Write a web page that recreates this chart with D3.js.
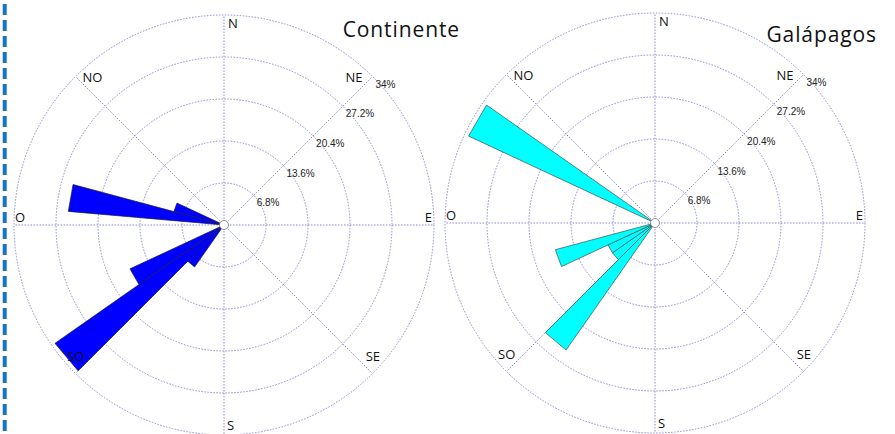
<!DOCTYPE html>
<html>
<head>
<meta charset="utf-8">
<script src="https://d3js.org/d3.v7.min.js"></script>
<style>
    body {
        margin: 0;
        background: #ffffff;
    }
    .dir {
        font-family: "Open Sans", sans-serif;
        font-size: 13px;
        fill: #111;
    }
    .pct {
        font-family: "Liberation Sans", Arial, sans-serif;
        font-size: 10px;
        fill: #222;
    }
    .title {
        font-family: "Open Sans", sans-serif;
        font-size: 21px;
        letter-spacing: 0.9px;
        fill: #111;
    }
</style>
</head>
<body>
<svg id="chart" width="895" height="434"></svg>
<script>
    // compass labels, clockwise from north
    var directions = ["N", "NE", "E", "SE", "S", "SO", "O", "NO"];
    var ringTicks = [6.8, 13.6, 20.4, 27.2, 34];
    var binWidth = 10; // degrees per sector

    // sector centre (bearing, degrees) and frequency (%)
    var contBearings = [220, 230, 240, 280, 290];
    var contValues = [8.3, 33.4, 16.8, 25.3, 8.4];

    var galBearings = [220, 230, 240, 250, 300];
    var galValues = [25.1, 8.4, 8.4, 16.7, 33.3];

    var width = 895,
        height = 434,
        radius = 210;

    var svg = d3.select("#chart");

    // dashed separator on the left
    svg.append("line")
        .attr("x1", 4.7).attr("x2", 4.7)
        .attr("y1", 4).attr("y2", height)
        .attr("stroke", "#1874c9")
        .attr("stroke-width", 4)
        .attr("stroke-dasharray", "11,5");

    var r = d3.scaleLinear().domain([0, 34]).range([0, radius]);

    function rose(cx, cy, bearings, values, fill, stroke, title, titleX, titleY) {
        var g = svg.append("g").attr("transform", "translate(" + cx + "," + cy + ")");

        var grid = g.append("g")
            .attr("fill", "none")
            .attr("stroke", "#8a8ad6")
            .attr("stroke-width", 1)
            .attr("stroke-dasharray", "1.5,1.5");

        grid.selectAll("circle")
            .data(ringTicks)
            .enter().append("circle")
            .attr("r", function(d) { return r(d); });

        grid.selectAll("line")
            .data(d3.range(8))
            .enter().append("line")
            .attr("x1", 0).attr("y1", 0)
            .attr("x2", function(i) { return radius * Math.sin(i * Math.PI / 4); })
            .attr("y2", function(i) { return -radius * Math.cos(i * Math.PI / 4); });

        // wedges
        var data = bearings.map(function(b, i) { return { bearing: b, value: values[i] }; });
        var wedge = d3.lineRadial()
            .angle(function(p) { return p[0]; })
            .radius(function(p) { return p[1]; })
            .curve(d3.curveLinearClosed);
        var rad = Math.PI / 180;

        g.append("g").selectAll("path")
            .data(data)
            .enter().append("path")
            .attr("d", function(d) {
                var a0 = (d.bearing - binWidth / 2) * rad,
                    a1 = (d.bearing + binWidth / 2) * rad;
                return wedge([[0, 0], [a0, r(d.value)], [a1, r(d.value)]]);
            })
            .attr("fill", fill)
            .attr("stroke", stroke)
            .attr("stroke-width", 0.7)
            .attr("stroke-linejoin", "miter");

        g.append("circle")
            .attr("r", 4.5)
            .attr("fill", "#fff")
            .attr("stroke", "#777")
            .attr("stroke-width", 0.8);

        // percentage labels along the NE spoke
        var d45 = Math.SQRT1_2;
        g.selectAll(".pct")
            .data(ringTicks)
            .enter().append("text")
            .attr("class", "pct")
            .attr("x", function(d) { return r(d) * d45 + 3; })
            .attr("y", function(d) { return -r(d) * d45 + 11; })
            .text(function(d) { return d + "%"; });

        // compass labels
        var rd = radius * d45;
        var pos = {
            "N": [4, -radius + 12.5, "start"],
            "NE": [rd - 10, -rd + 5, "end"],
            "E": [radius - 2, -3, "end"],
            "SE": [rd + 7.5, rd - 12, "end"],
            "S": [3, radius - 5, "start"],
            "SO": [-rd - 8.5, rd - 12, "start"],
            "O": [-radius + 1, -3.5, "start"],
            "NO": [-rd + 7, -rd + 5, "start"]
        };
        g.selectAll(".dir")
            .data(directions)
            .enter().append("text")
            .attr("class", "dir")
            .attr("x", function(d) { return pos[d][0]; })
            .attr("y", function(d) { return pos[d][1]; })
            .attr("text-anchor", function(d) { return pos[d][2]; })
            .text(function(d) { return d; });

        svg.append("text")
            .attr("class", "title")
            .attr("x", titleX)
            .attr("y", titleY)
            .attr("text-anchor", "end")
            .text(title);
    }

    rose(224, 225, contBearings, contValues, "#0000ff", "#1a1a40", "Continente", 460, 37);
    rose(655, 223, galBearings, galValues, "#00ffff", "#3a5050", "Galápagos", 877, 42);
</script>
</body>
</html>
